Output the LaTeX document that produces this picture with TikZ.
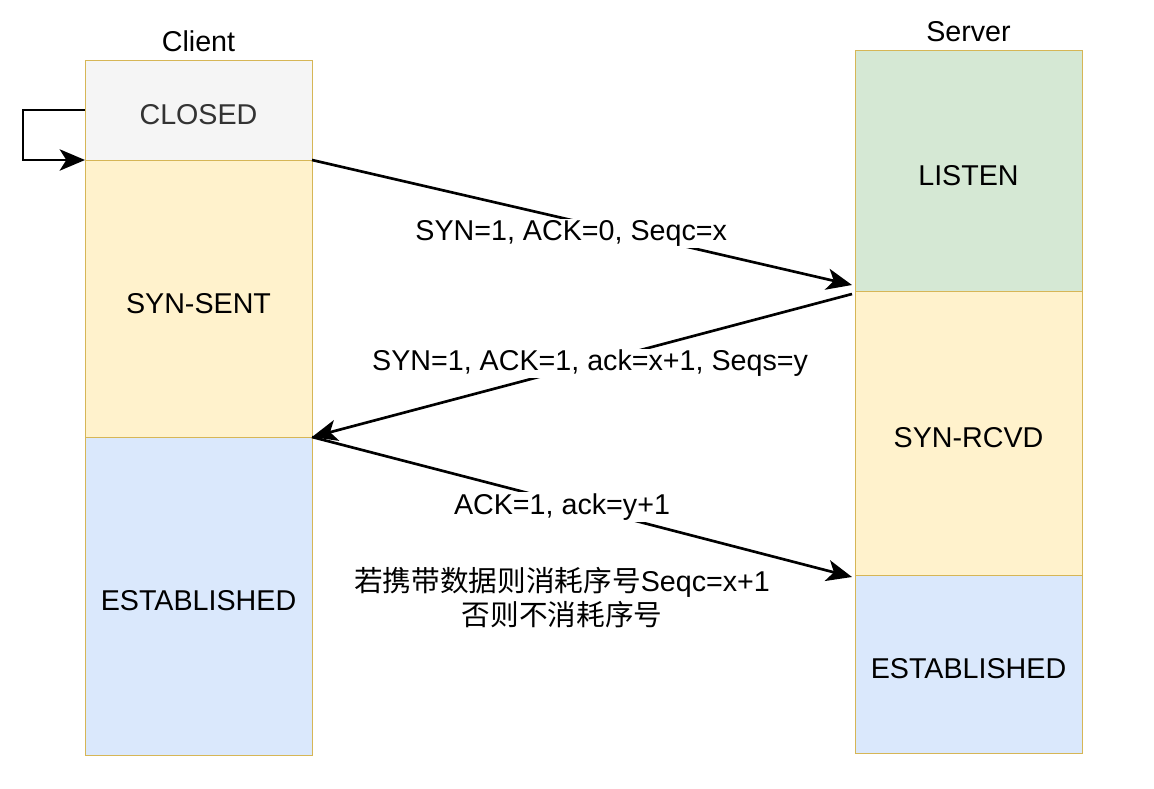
\documentclass[tikz,border=0pt]{standalone}
\usepackage{fontspec}
\setmainfont{Liberation Sans}
\newfontfamily\cjk{Noto Sans CJK SC}
\usepackage{tikz}
\usetikzlibrary{arrows.meta, calc, positioning}
\definecolor{edgetan}{HTML}{D6B656}
\definecolor{closedgray}{HTML}{F5F5F5}
\definecolor{textgray}{HTML}{333333}
\definecolor{synyellow}{HTML}{FFF2CC}
\definecolor{listengreen}{HTML}{D5E8D4}
\definecolor{estblue}{HTML}{DAE8FC}
\tikzstyle{state}=[rectangle, draw=edgetan, line width=0.75pt, minimum width=170.25pt, outer sep=0pt, text height=22pt, text depth=0pt, font=\fontsize{21.5}{25.5}\selectfont]
\tikzstyle{title}=[font=\fontsize{21.5}{25.5}\selectfont, inner sep=1pt]
\tikzstyle{msg}=[-{Stealth[length=19pt, width=16pt, inset=5pt]}, line width=2pt]
\tikzstyle{lbl}=[fill=white, inner sep=1pt, font=\fontsize{21.5}{25.5}\selectfont]

\begin{document}
\begin{tikzpicture}[x=0.75pt, y=-0.75pt]
    \useasboundingbox (0,0) rectangle (1154,789);

    \node[state, fill=closedgray, text=textgray, minimum height=75pt] (closed) at (198.5,110) {CLOSED};
    \node[state, fill=synyellow, minimum height=207.75pt] (synsent) [below=0pt of closed] {SYN-SENT};
    \node[state, fill=estblue, minimum height=238.5pt] (estclient) [below=0pt of synsent] {ESTABLISHED};
    \node[title] (client) [above=5pt of closed] {Client};

    \node[state, fill=listengreen, minimum height=180.75pt] (listen) at (968.5,170.5) {LISTEN};
    \node[state, fill=synyellow, minimum height=213pt] (synrcvd) [below=0pt of listen] {SYN-RCVD};
    \node[state, fill=estblue, minimum height=133.5pt] (estserver) [below=0pt of synrcvd] {ESTABLISHED};
    \node[title] (server) [above=5pt of listen] {Server};

    \coordinate (loop) at ($(closed.west)+(-62,0)$);
    \draw[msg] (closed.west) -- (loop) |- (closed.south west);

    \coordinate (synin) at ($(listen.south west)+(-3,-6)$);
    \coordinate (synackout) at ($(synrcvd.north west)+(-3,3)$);
    \coordinate (ackin) at ($(synrcvd.south west)+(-3,2)$);

    \draw[msg] (closed.south east) -- (synin)
        node[lbl, pos=0.48, yshift=-10pt] (syn) {SYN=1, ACK=0, Seqc=x};
    \draw[msg] (synackout) -- (synsent.south east)
        node[lbl, pos=0.485] (synack) {SYN=1, ACK=1, ack=x+1, Seqs=y};
    \draw[msg] (estclient.north east) -- (ackin)
        node[lbl, pos=0.463, yshift=-4pt] (ack) {ACK=1, ack=y+1};

    \node[title, align=center] (note) [below=32pt of ack]
        {{\cjk 若携带数据则消耗序号}Seqc=x+1\\{\cjk 否则不消耗序号}};
\end{tikzpicture}
\end{document}
